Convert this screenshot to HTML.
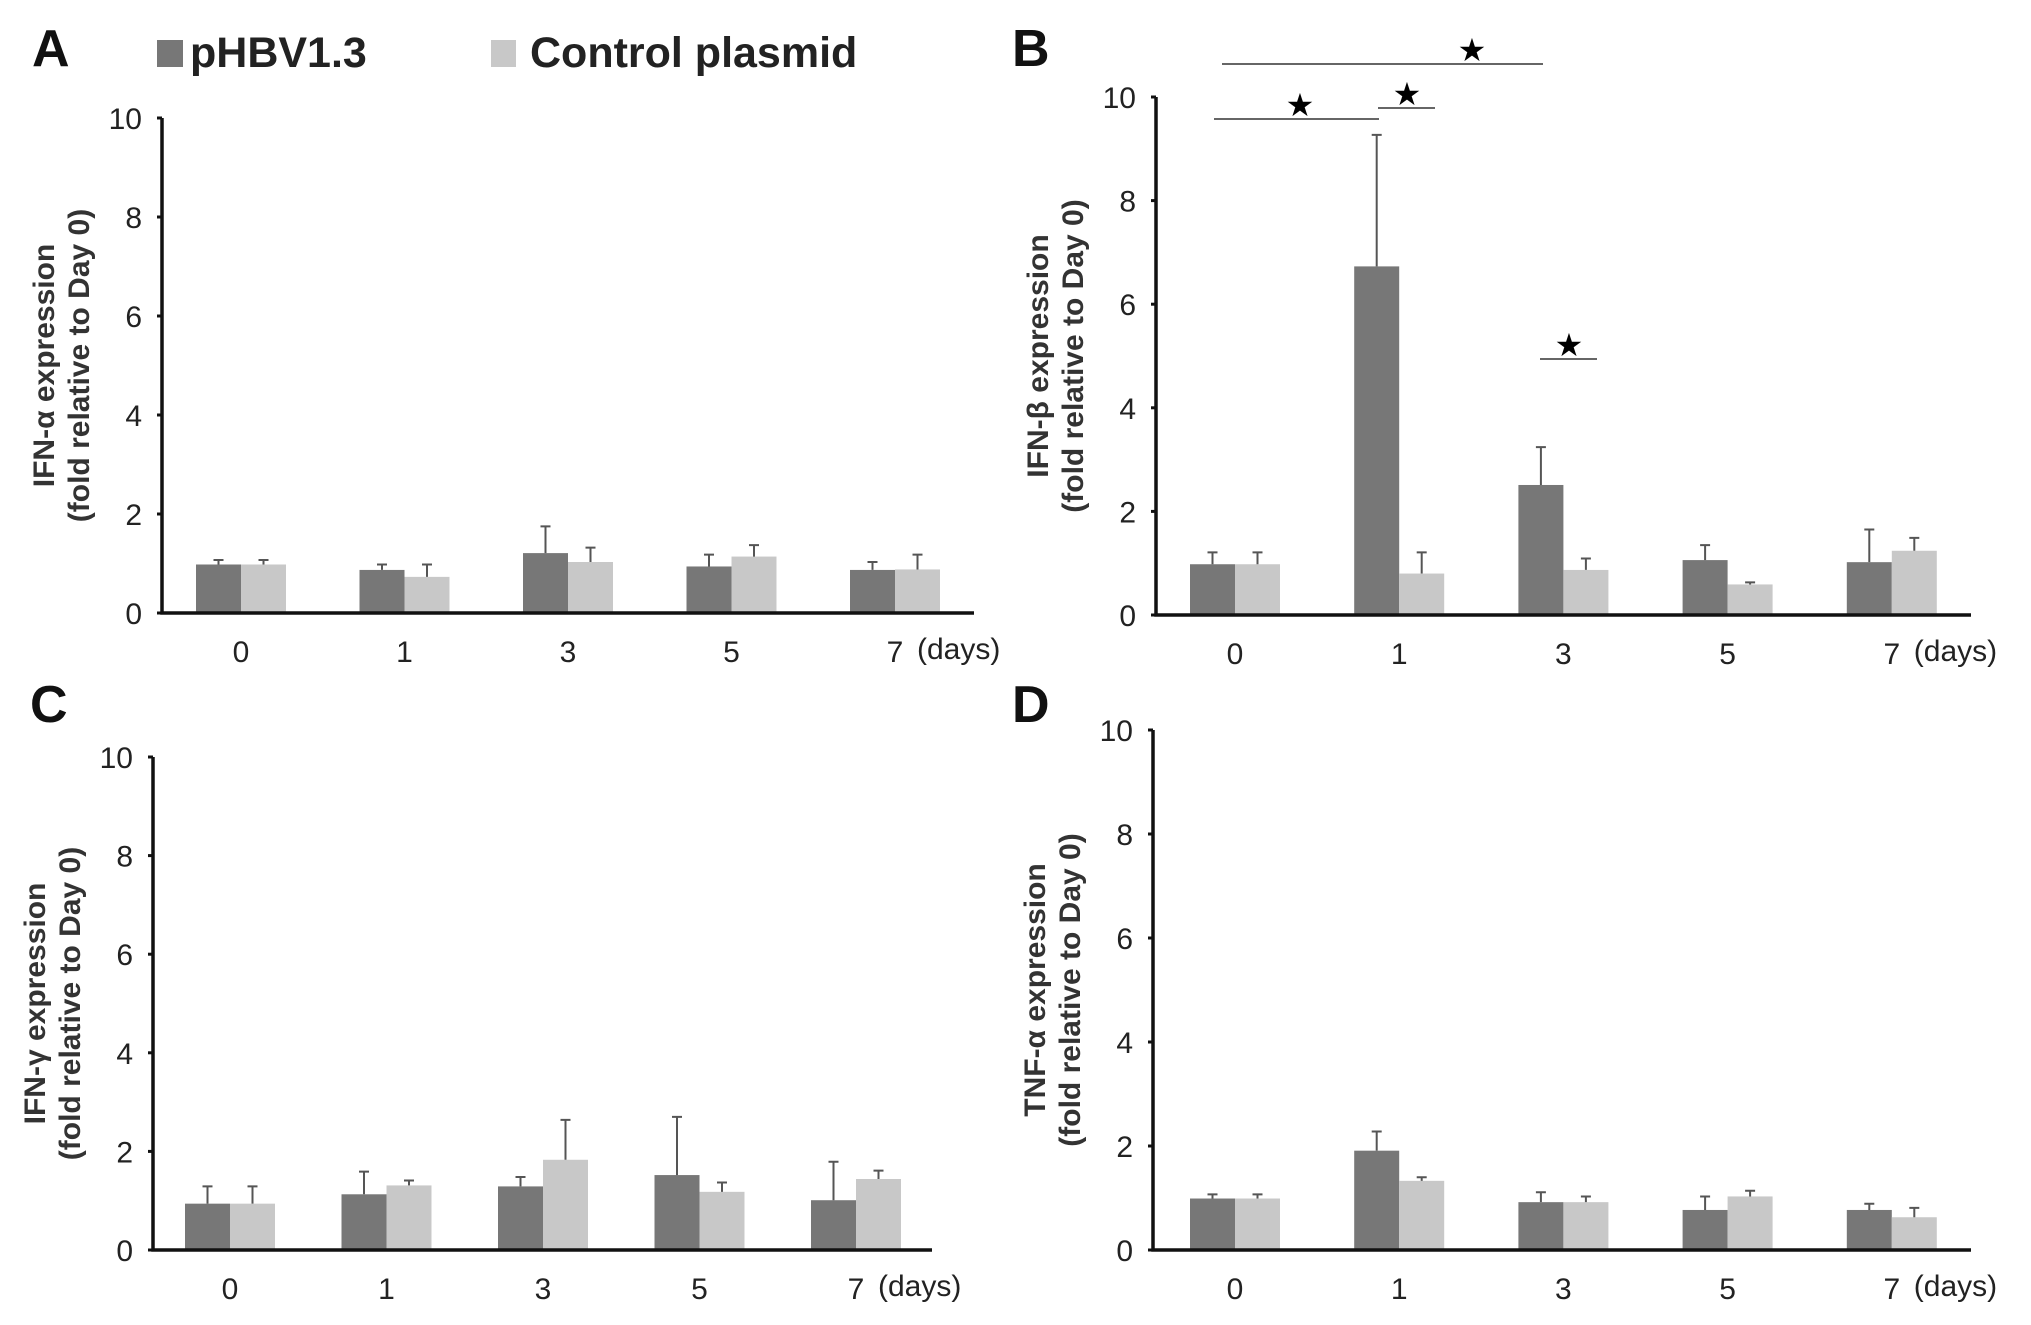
<!DOCTYPE html>
<html><head><meta charset="utf-8"><style>
html,body{margin:0;padding:0;background:#fff;}
svg{display:block;font-family:"Liberation Sans",sans-serif;}
</style></head><body>
<svg id="fig" width="2031" height="1325" viewBox="0 0 2031 1325">
<g>
<rect x="157" y="40" width="26" height="27" fill="#777"/>
<text x="190" y="67" font-size="43" font-weight="bold" fill="#222">pHBV1.3</text>
<rect x="491" y="40" width="25" height="27" fill="#c8c8c8"/>
<text x="530" y="67" font-size="43" font-weight="bold" fill="#222">Control plasmid</text>
</g>
</svg>
<script>
const categories = ["0","1","3","5","7"];
const yTicks = [0,2,4,6,8,10];
const aDark = [0.98,0.87,1.21,0.94,0.87];
const aDarkErr = [1.07,0.98,1.75,1.18,1.03];
const aLight = [0.98,0.73,1.03,1.14,0.88];
const aLightErr = [1.07,0.98,1.32,1.37,1.18];
const bDark = [0.98,6.73,2.51,1.06,1.02];
const bDarkErr = [1.21,9.27,3.24,1.35,1.65];
const bLight = [0.98,0.80,0.87,0.59,1.24];
const bLightErr = [1.21,1.21,1.09,0.63,1.49];
const cDark = [0.94,1.13,1.29,1.52,1.01];
const cDarkErr = [1.29,1.59,1.48,2.70,1.79];
const cLight = [0.94,1.31,1.83,1.18,1.44];
const cLightErr = [1.29,1.41,2.64,1.37,1.61];
const dDark = [0.99,1.91,0.92,0.77,0.77];
const dDarkErr = [1.07,2.28,1.11,1.03,0.89];
const dLight = [0.99,1.33,0.92,1.03,0.63];
const dLightErr = [1.07,1.40,1.03,1.14,0.81];

const NS="http://www.w3.org/2000/svg";
const svg=document.getElementById('fig');
function mk(tag,attrs,parent){const e=document.createElementNS(NS,tag);for(const k in attrs)e.setAttribute(k,attrs[k]);(parent||svg).appendChild(e);return e;}

function panel(cfg){
  const g=mk('g',{});
  
  
  const y=v=>cfg.y0-(cfg.y0-cfg.y10)*v/10;
  const cx=i=>cfg.c0+cfg.step*i;
  const bw=45;
  const L=mk('text',{x:cfg.lx,y:cfg.ly,'font-size':52,'font-weight':'bold',fill:'#111'},g);L.textContent=cfg.letter;
  
  
  for(let i=0;i<categories.length;i++){
    [[cfg.dark,cfg.darkErr,'#777',-1],[cfg.light,cfg.lightErr,'#c8c8c8',0]].forEach(([vals,errs,col,off])=>{
      const x0=cx(i)+off*bw;
      const b=mk('rect',{x:x0,y:y(vals[i]),width:bw,height:y(0)-y(vals[i]),fill:col},g);
      
      
      const mx=x0+bw/2;
      const e=mk('path',{d:`M${mx} ${y(vals[i])}V${y(errs[i])}M${mx-5} ${y(errs[i])}H${mx+5}`,stroke:'#555','stroke-width':2,fill:'none'},g);
      
      
    });
    const t=mk('text',{x:cx(i),y:cfg.y0+49,'font-size':30,'text-anchor':'middle',fill:'#222'},g);
    t.textContent=categories[i];
    
    
  }
  const dd=mk('text',{x:cx(4)+22,y:cfg.y0+46,'font-size':30,fill:'#222'},g);dd.textContent='(days)';
  
  
  const ax=mk('path',{d:`M${cfg.ax} ${cfg.y10}V${cfg.y0}H${cfg.xend}`,stroke:'#111','stroke-width':3.5,fill:'none'},g);
  
  
  yTicks.forEach(v=>{
    mk('path',{d:`M${cfg.ax-5} ${y(v)}H${cfg.ax}`,stroke:'#111','stroke-width':3},g);
    const t=mk('text',{x:cfg.ax-20,y:y(v)+11,'font-size':30,'text-anchor':'end',fill:'#222'},g);
    t.textContent=v;
    
    
  });
  const my=(cfg.y0+cfg.y10)/2;
  const tt=mk('text',{transform:`translate(${cfg.ax-108},${my}) rotate(-90)`,'font-size':30,'font-weight':'bold','text-anchor':'middle',fill:'#333'},g);
  tt.textContent=cfg.title;
  
  
  const t2=mk('text',{transform:`translate(${cfg.ax-73},${my}) rotate(-90)`,'font-size':30,'font-weight':'bold','text-anchor':'middle',fill:'#333'},g);
  t2.textContent='(fold relative to Day 0)';
  
  
  return g;
}
panel({letter:'A',lx:32,ly:66,ax:162,y0:613,y10:118,xend:974,c0:241,step:163.5,dark:aDark,darkErr:aDarkErr,light:aLight,lightErr:aLightErr,title:'IFN-α expression'});
const gB=panel({letter:'B',lx:1012,ly:66,ax:1156,y0:615,y10:97,xend:1971,c0:1235,step:164.2,dark:bDark,darkErr:bDarkErr,light:bLight,lightErr:bLightErr,title:'IFN-β expression'});
panel({letter:'C',lx:30,ly:722,ax:153,y0:1250,y10:757,xend:932,c0:230,step:156.5,dark:cDark,darkErr:cDarkErr,light:cLight,lightErr:cLightErr,title:'IFN-γ expression'});
panel({letter:'D',lx:1012,ly:722,ax:1153,y0:1250,y10:730,xend:1971,c0:1235,step:164.2,dark:dDark,darkErr:dDarkErr,light:dLight,lightErr:dLightErr,title:'TNF-α expression'});
[[1222,1543,64,1472],[1214,1379,119,1300],[1378,1435,108,1407],[1540,1597,359,1569]].forEach(s=>{
  const l=mk('path',{d:`M${s[0]} ${s[2]}H${s[1]}`,stroke:'#666','stroke-width':2},gB);
  
  
  const st=mk('text',{x:s[3],y:s[2]-3,'font-size':32,'text-anchor':'middle',fill:'#000'},gB);
  st.textContent='★';
  
  
});
</script>
</body></html>
